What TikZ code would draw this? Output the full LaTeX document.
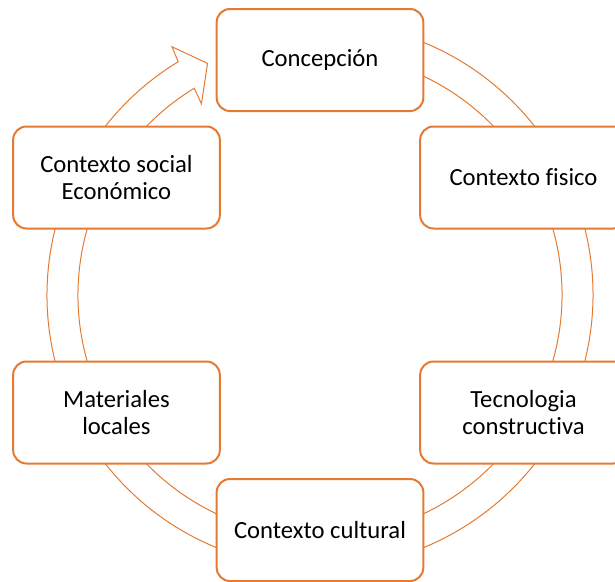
\documentclass[tikz,border=0pt]{standalone}
\usepackage{fontspec}
\setmainfont{Carlito}[Ligatures=NoCommon]
\usepackage{tikz}
\usetikzlibrary{positioning,calc}
\definecolor{cycleorange}{HTML}{E57A33}
\tikzset{
  every node/.style={font=\fontsize{18.5}{20.5}\selectfont, align=center},
  block/.style={
    draw=cycleorange, line width=1.5pt, rounded corners=10pt,
    minimum width=155pt, minimum height=76.5pt, inner sep=2pt,
    fill=white
  },
  ring/.style={draw=cycleorange, line width=0.75pt, fill=white}
}

\begin{document}
\begin{tikzpicture}[x=0.75pt, y=-0.75pt]

\useasboundingbox (0,0) rectangle (615,582);

% centre of the cycle
\coordinate (c) at (320,295);

%% ===========================================================================
%% circular arrow behind the boxes
%% ===========================================================================
\draw[ring] ($(c)+(-80:242)$) arc[start angle=-80, end angle=238.7, radius=242]
  -- ($(c)+(238.2:225)$) -- ($(c)+(244.1:257.5)$) -- ($(c)+(239.2:289)$)
  -- ($(c)+(238.7:273)$) arc[start angle=238.7, end angle=-80, radius=273]
  -- cycle;

%% ===========================================================================
%% boxes of the cycle
%% ===========================================================================
\node[block] (concep)  at ($(c)+(-90:235)$) {Concepción};
\node[block] (fisico)  at ($(c)+(-30:235)$) {Contexto fisico};
\node[block] (tecno)   at ($(c)+(30:235)$)  {Tecnologia\\constructiva};
\node[block] (cultura) at ($(c)+(90:235)$)  {Contexto cultural};
\node[block] (mater)   at ($(c)+(150:235)$) {Materiales\\locales};
\node[block] (social)  at ($(c)+(210:235)$) {Contexto social\\Económico};

\end{tikzpicture}
\end{document}
